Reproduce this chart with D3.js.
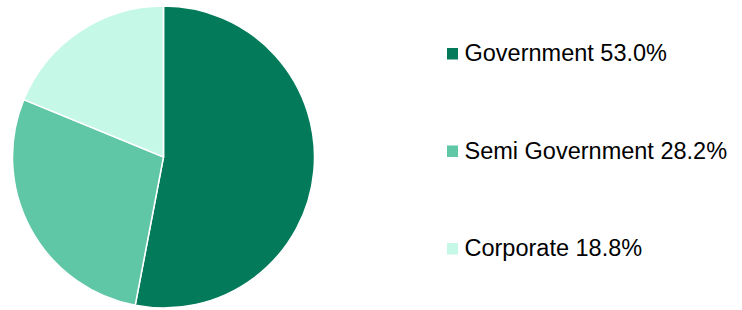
<!DOCTYPE html>
<html><head><meta charset="utf-8">
<script src="https://cdn.jsdelivr.net/npm/d3@7"></script>
<style>body{margin:0;background:#fff}svg{display:block}</style>
</head><body>
<svg id="c" width="742" height="310"></svg>
<script>
const categories = ["Government", "Semi Government", "Corporate"];
const values = [53.0, 28.2, 18.8];
const colors = ["#037a5a", "#5fc6a6", "#c6f8e8"];

const svg = d3.select("#c");
const cx = 163.5, cy = 157, r = 151;
const pie = d3.pie().sort(null).value(d => d)(values);
const arc = d3.arc().innerRadius(0).outerRadius(r);
const g = svg.append("g").attr("transform", `translate(${cx},${cy})`);
g.selectAll("path").data(pie).enter().append("path")
  .attr("d", arc).attr("fill", (d, i) => colors[i])
  .attr("stroke", "#fff").attr("stroke-width", 1.5);

const ly = d3.scalePoint().domain(categories).range([61, 256]);
const lg = svg.append("g");
categories.forEach((c, i) => {
  const y = ly(c);
  lg.append("rect").attr("x", 447).attr("y", y - 13).attr("width", 11).attr("height", 11.5).attr("fill", colors[i]);
  lg.append("text").attr("x", 464.5).attr("y", y)
    .attr("font-family", "Liberation Sans, Arial, sans-serif").attr("font-size", 23.5).attr("fill", "#000")
    .text(`${c} ${values[i].toFixed(1)}%`);
});
</script>
</body></html>
